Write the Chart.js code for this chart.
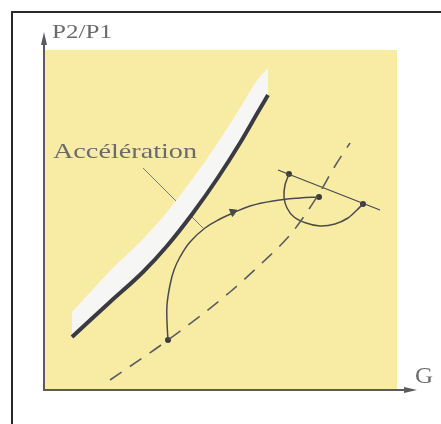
<!DOCTYPE html>
<html lang="fr">
<head>
  <meta charset="UTF-8"/>
  <title>Accélération</title>
  <script src="https://cdn.jsdelivr.net/npm/chart.js"></script>
  <style>
    body { margin: 0; background: #fff; }
    #wrap { width: 441px; height: 424px; position: relative; }
  </style>
</head>
<body>
  <div id="wrap"><canvas id="map"></canvas></div>
  <script>
    // values, in axis units (origin at the axes corner)
    const surgeX = [28, 66, 99, 123, 149, 173, 196, 214, 224];
    const surgeY = [53, 88, 118, 144, 177, 211, 247, 278, 295];
    const bandTopY = [78, 119, 151, 178, 212, 246, 282, 311, 322];

    const opX = [66, 124, 186, 218, 246, 263, 276, 291, 306];
    const opY = [10, 50, 98, 127, 155, 178, 198, 224, 247];

    const pathX = [124, 123, 123, 126, 130, 136, 146, 161, 176, 189, 206, 229, 256, 275];
    const pathY = [50, 68, 85, 105, 120, 133, 148, 162, 171, 177, 184, 189, 192, 193];

    const chordX = [234, 336];
    const chordY = [220, 180];

    const arcX = [245, 241, 240, 243, 250, 262, 276, 291, 304, 313, 319];
    const arcY = [216, 205, 193, 182, 173, 167, 164, 166, 172, 180, 186];

    const dotX = [124, 275, 245, 319];
    const dotY = [50, 193, 216, 186];

    const leaderX = [99, 159];
    const leaderY = [222, 162];

    const arrowX = [189];
    const arrowY = [178];

    const zip = (xs, ys) => xs.map((x, i) => ({ x, y: ys[i] }));

    const ink = '#4a4a4e';

    const decor = {
      id: 'decor',
      beforeDraw(chart) {
        const { ctx, scales: { x, y } } = chart;
        ctx.save();
        ctx.fillStyle = '#f8eca4';
        ctx.fillRect(x.getPixelForValue(0), y.getPixelForValue(340),
          x.getPixelForValue(353) - x.getPixelForValue(0), y.getPixelForValue(0) - y.getPixelForValue(340));
        ctx.restore();
      },
      afterDraw(chart) {
        const { ctx, scales: { x, y } } = chart;
        const x0 = x.getPixelForValue(0), y0 = y.getPixelForValue(0);
        const xTip = x.getPixelForValue(373), yTip = y.getPixelForValue(358);
        ctx.save();
        // frame
        ctx.strokeStyle = '#2a2a2a';
        ctx.lineWidth = 2;
        ctx.beginPath();
        ctx.moveTo(12, 430); ctx.lineTo(12, 12); ctx.lineTo(445, 12);
        ctx.stroke();
        // axes
        ctx.strokeStyle = '#5a5a60';
        ctx.fillStyle = '#5a5a60';
        ctx.lineWidth = 2;
        ctx.beginPath();
        ctx.moveTo(x0, yTip + 8); ctx.lineTo(x0, y0); ctx.lineTo(xTip - 8, y0);
        ctx.stroke();
        ctx.beginPath();
        ctx.moveTo(x0, yTip); ctx.lineTo(x0 - 3, yTip + 13); ctx.lineTo(x0 + 3, yTip + 13); ctx.closePath();
        ctx.fill();
        ctx.beginPath();
        ctx.moveTo(xTip, y0); ctx.lineTo(xTip - 13, y0 - 3); ctx.lineTo(xTip - 13, y0 + 3); ctx.closePath();
        ctx.fill();
        // labels
        ctx.fillStyle = '#6a6a6a';
        const label = (txt, left, base, size, width) => {
          ctx.font = size + 'px "Liberation Serif", serif';
          const w = ctx.measureText(txt).width;
          ctx.save();
          ctx.translate(left, base);
          ctx.scale(width / w, 1);
          ctx.fillText(txt, 0, 0);
          ctx.restore();
        };
        label('P2/P1', 52, 38, 18, 60);
        label('G', 415, 383, 23, 18);
        label('Accélération', 53, 158, 22, 144);
        ctx.restore();
      }
    };

    new Chart(document.getElementById('map'), {
      type: 'scatter',
      data: {
        datasets: [
          { data: zip(surgeX, surgeY), showLine: true, borderColor: '#3a3a42', borderWidth: 4,
            borderCapStyle: 'butt', pointRadius: 0, cubicInterpolationMode: 'monotone' },
          { data: zip(surgeX, bandTopY), showLine: true, borderWidth: 0, borderColor: 'rgba(0,0,0,0)',
            backgroundColor: '#f6f6f4', fill: '-1', pointRadius: 0, cubicInterpolationMode: 'monotone' },
          { data: zip(opX, opY), showLine: true, borderColor: '#5c5c60', borderWidth: 1.6,
            borderDash: [14, 10], pointRadius: 0, cubicInterpolationMode: 'monotone' },
          { data: zip(pathX, pathY), showLine: true, borderColor: ink, borderWidth: 1.5,
            pointRadius: 0, tension: 0.4 },
          { data: zip(arcX, arcY), showLine: true, borderColor: ink, borderWidth: 1.5,
            pointRadius: 0, tension: 0.3 },
          { data: zip(chordX, chordY), showLine: true, borderColor: ink, borderWidth: 1.3, pointRadius: 0 },
          { data: zip(leaderX, leaderY), showLine: true, borderColor: '#7a7a7a', borderWidth: 1, pointRadius: 0 },
          { data: zip(dotX, dotY), pointRadius: 3, pointBackgroundColor: '#3a3a3a', pointBorderWidth: 0 },
          { data: zip(arrowX, arrowY), pointStyle: 'triangle', rotation: 67, pointRadius: 4.5,
            pointBackgroundColor: ink, pointBorderColor: ink, pointBorderWidth: 1 }
        ]
      },
      options: {
        responsive: true,
        maintainAspectRatio: false,
        animation: false,
        events: [],
        layout: { padding: { left: 44, right: 24, top: 32, bottom: 34 } },
        plugins: { legend: { display: false }, tooltip: { enabled: false } },
        scales: {
          x: { type: 'linear', min: 0, max: 373, display: false },
          y: { type: 'linear', min: 0, max: 358, display: false }
        }
      },
      plugins: [decor]
    });
  </script>
</body>
</html>
